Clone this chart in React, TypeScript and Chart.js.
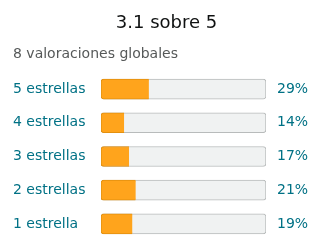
import React, { useEffect, useRef } from "react";
import { Chart, registerables } from "chart.js";

Chart.register(...registerables);

const categories = ["5 estrellas", "4 estrellas", "3 estrellas", "2 estrellas", "1 estrella"];
const percentages = [29, 14, 17, 21, 19];
const percentLabels = ["29%", "14%", "17%", "21%", "19%"];
const trackValues = [100, 100, 100, 100, 100];
const titleText = "3.1 sobre 5";
const subtitleText = "8 valoraciones globales";

const FONT = "'DejaVu Sans', sans-serif";

export default function App() {
  const ref = useRef<HTMLCanvasElement | null>(null);

  useEffect(() => {
    if (!ref.current) return;
    const chart = new Chart(ref.current, {
      type: "bar",
      data: {
        labels: categories,
        datasets: [
          {
            data: percentages,
            backgroundColor: "#ffa41c",
            borderColor: "#e3900f",
            borderWidth: { left: 1, top: 1, bottom: 1, right: 0 },
            borderSkipped: false,
            borderRadius: { topLeft: 3, bottomLeft: 3, topRight: 0, bottomRight: 0 },
            barThickness: 20,
            grouped: false,
            order: 0,
            yAxisID: "y",
          },
          {
            data: trackValues,
            backgroundColor: "#f0f2f2",
            borderColor: "#b8bbbb",
            borderWidth: 1,
            borderSkipped: false,
            borderRadius: 3,
            barThickness: 20,
            grouped: false,
            order: 1,
            yAxisID: "y",
          },
        ],
      },
      options: {
        indexAxis: "y",
        animation: false,
        responsive: false,
        devicePixelRatio: 1,
        layout: { padding: { left: 13, right: 0, top: 0, bottom: 11.25 } },
        plugins: {
          legend: { display: false },
          tooltip: { enabled: false },
          title: {
            display: true,
            text: titleText,
            color: "#0f1111",
            font: { family: FONT, size: 18, weight: "normal", lineHeight: 1.2 },
            padding: { top: 12.5, bottom: 0 },
          },
          subtitle: {
            display: true,
            text: subtitleText,
            align: "start",
            color: "#565959",
            font: { family: FONT, size: 14, weight: "normal", lineHeight: 1.2 },
            padding: { top: 12.2, bottom: 9.1 },
          },
        },
        scales: {
          x: { display: false, min: 0, max: 100 },
          y: {
            type: "category",
            position: "left",
            grid: { display: false, drawTicks: false },
            border: { display: false },
            ticks: {
              color: "#007185",
              crossAlign: "far",
              padding: 0,
              font: { family: FONT, size: 14 },
            },
            afterFit: (s: any) => {
              s.width = 88;
              s.paddingTop = 0;
              s.paddingBottom = 0;
            },
          },
          y2: {
            type: "category",
            position: "right",
            labels: percentLabels,
            offset: true,
            grid: { display: false, drawTicks: false },
            border: { display: false },
            ticks: {
              color: "#007185",
              crossAlign: "near",
              padding: 11,
              font: { family: FONT, size: 14 },
            },
            afterFit: (s: any) => {
              s.width = 54;
              s.paddingTop = 0;
              s.paddingBottom = 0;
            },
          },
        },
      },
    } as any);
    return () => chart.destroy();
  }, []);

  return (
    <div style={{ position: "absolute", left: 0, top: 0, width: 320, height: 252, background: "#fff" }}>
      <canvas ref={ref} width={320} height={252} style={{ display: "block", width: 320, height: 252 }} />
    </div>
  );
}
